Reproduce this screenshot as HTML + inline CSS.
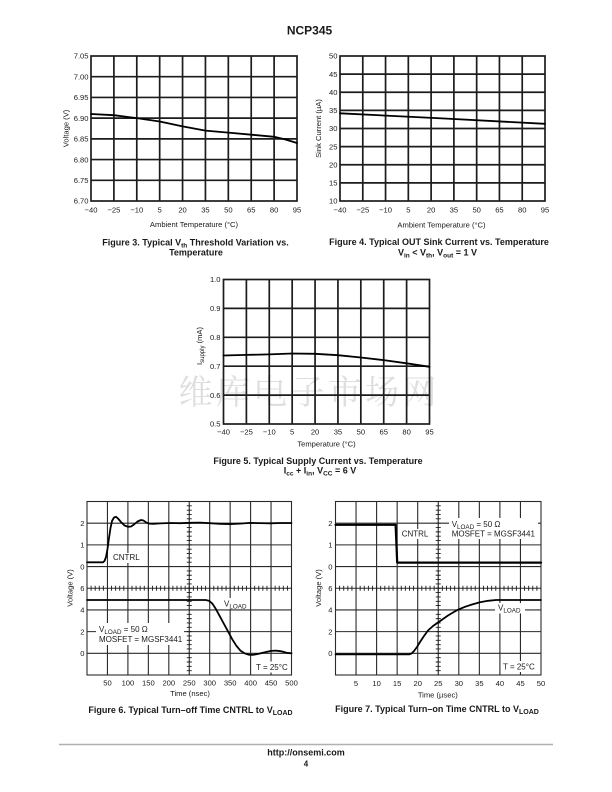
<!DOCTYPE html>
<html>
<head>
<meta charset="utf-8">
<style>
html,body{margin:0;padding:0;background:#fff;}
svg{display:block;}
text{font-family:"Liberation Sans",Arial,sans-serif;fill:#1a1a1a;}
.t{font-size:7.6px;}
.ax{font-size:7.6px;}
.cap{font-size:9px;font-weight:bold;}
.an{font-size:8px;}
.g1{stroke:#1c1c1c;stroke-width:1.7;fill:none;}
.g2{stroke:#2a2a2a;stroke-width:1.1;fill:none;}
.cv{stroke:#000;stroke-width:1.8;fill:none;stroke-linejoin:round;stroke-linecap:round;}
</style>
</head>
<body>
<svg width="612" height="792" viewBox="0 0 612 792" xmlns="http://www.w3.org/2000/svg">
<rect width="612" height="792" fill="#fff"/>

<!-- Header -->
<text x="309.5" y="34.3" text-anchor="middle" style="font-size:12px;font-weight:bold;">NCP345</text>

<!-- ================= Figure 3 ================= -->
<g class="g1">
  <rect x="91" y="56" width="206" height="145"/>
  <path d="M113.89 56V201M136.78 56V201M159.67 56V201M182.56 56V201M205.44 56V201M228.33 56V201M251.22 56V201M274.11 56V201"/>
  <path d="M91 76.71H297M91 97.43H297M91 118.14H297M91 138.86H297M91 159.57H297M91 180.29H297"/>
</g>
<polyline class="cv" points="91,114 113.9,115.2 136.8,118.1 159.7,121.5 182.6,126.4 205.4,130.6 228.3,132.6 251.2,134.7 274.1,136.8 285,139.4 297,143"/>
<g class="t" text-anchor="end">
  <text x="88.5" y="58.7">7.05</text>
  <text x="88.5" y="79.4">7.00</text>
  <text x="88.5" y="100.1">6.95</text>
  <text x="88.5" y="120.8">6.90</text>
  <text x="88.5" y="141.6">6.85</text>
  <text x="88.5" y="162.3">6.80</text>
  <text x="88.5" y="183">6.75</text>
  <text x="88.5" y="203.7">6.70</text>
</g>
<g class="t" text-anchor="middle">
  <text x="91" y="212.7">−40</text>
  <text x="113.89" y="212.7">−25</text>
  <text x="136.78" y="212.7">−10</text>
  <text x="159.67" y="212.7">5</text>
  <text x="182.56" y="212.7">20</text>
  <text x="205.44" y="212.7">35</text>
  <text x="228.33" y="212.7">50</text>
  <text x="251.22" y="212.7">65</text>
  <text x="274.11" y="212.7">80</text>
  <text x="297" y="212.7">95</text>
</g>
<text class="ax" x="194" y="227" text-anchor="middle">Ambient Temperature (°C)</text>
<text class="ax" transform="translate(68.5,128.5) rotate(-90)" text-anchor="middle">Voltage (V)</text>
<text class="cap" x="195.5" y="245.5" text-anchor="middle">Figure 3. Typical V<tspan dy="2" style="font-size:6.5px">th</tspan><tspan dy="-2"> Threshold Variation vs.</tspan></text>
<text class="cap" x="196" y="255.5" text-anchor="middle">Temperature</text>

<!-- ================= Figure 4 ================= -->
<g class="g1">
  <rect x="340" y="56" width="205" height="145"/>
  <path d="M362.78 56V201M385.56 56V201M408.33 56V201M431.11 56V201M453.89 56V201M476.67 56V201M499.44 56V201M522.22 56V201"/>
  <path d="M340 74.13H545M340 92.25H545M340 110.38H545M340 128.5H545M340 146.63H545M340 164.75H545M340 182.88H545"/>
</g>
<polyline class="cv" points="340,113.3 442,118.4 545,123.8"/>
<g class="t" text-anchor="end">
  <text x="337.5" y="58.7">50</text>
  <text x="337.5" y="76.8">45</text>
  <text x="337.5" y="94.9">40</text>
  <text x="337.5" y="113.1">35</text>
  <text x="337.5" y="131.2">30</text>
  <text x="337.5" y="149.3">25</text>
  <text x="337.5" y="167.5">20</text>
  <text x="337.5" y="185.6">15</text>
  <text x="337.5" y="203.7">10</text>
</g>
<g class="t" text-anchor="middle">
  <text x="340" y="212.7">−40</text>
  <text x="362.78" y="212.7">−25</text>
  <text x="385.56" y="212.7">−10</text>
  <text x="408.33" y="212.7">5</text>
  <text x="431.11" y="212.7">20</text>
  <text x="453.89" y="212.7">35</text>
  <text x="476.67" y="212.7">50</text>
  <text x="499.44" y="212.7">65</text>
  <text x="522.22" y="212.7">80</text>
  <text x="545" y="212.7">95</text>
</g>
<text class="ax" x="441.5" y="227.5" text-anchor="middle">Ambient Temperature (°C)</text>
<text class="ax" transform="translate(321,128.5) rotate(-90)" text-anchor="middle">Sink Current (µA)</text>
<text class="cap" x="439" y="245" text-anchor="middle">Figure 4. Typical OUT Sink Current vs. Temperature</text>
<text class="cap" x="437.5" y="255.5" text-anchor="middle">V<tspan dy="2" style="font-size:6.5px">in</tspan><tspan dy="-2"> &lt; V</tspan><tspan dy="2" style="font-size:6.5px">th</tspan><tspan dy="-2">, V</tspan><tspan dy="2" style="font-size:6.5px">out</tspan><tspan dy="-2"> = 1 V</tspan></text>

<!-- ================= Figure 5 ================= -->
<text x="307.5" y="404" text-anchor="middle" textLength="258" lengthAdjust="spacing" style="font-family:'Noto Serif CJK SC','Noto Sans CJK SC',serif;font-size:34px;fill:#dedede;">维库电子市场网</text>
<g class="g1">
  <rect x="223.5" y="279.5" width="206" height="144.5"/>
  <path d="M246.39 279.5V424M269.28 279.5V424M292.17 279.5V424M315.06 279.5V424M337.94 279.5V424M360.83 279.5V424M383.72 279.5V424M406.61 279.5V424"/>
  <path d="M223.5 308.4H429.5M223.5 337.3H429.5M223.5 366.2H429.5M223.5 395.1H429.5"/>
</g>
<polyline class="cv" points="223.5,355.5 246.4,354.9 269.3,354.4 292.2,353.5 315.1,353.8 337.9,355.2 360.8,357.5 383.7,360.1 406.6,363.3 429.5,366.8"/>
<g class="t" text-anchor="end">
  <text x="220.5" y="282.2">1.0</text>
  <text x="220.5" y="311.1">0.9</text>
  <text x="220.5" y="340">0.8</text>
  <text x="220.5" y="368.9">0.7</text>
  <text x="220.5" y="397.8">0.6</text>
  <text x="220.5" y="426.7">0.5</text>
</g>
<g class="t" text-anchor="middle">
  <text x="223.5" y="434.7">−40</text>
  <text x="246.39" y="434.7">−25</text>
  <text x="269.28" y="434.7">−10</text>
  <text x="292.17" y="434.7">5</text>
  <text x="315.06" y="434.7">20</text>
  <text x="337.94" y="434.7">35</text>
  <text x="360.83" y="434.7">50</text>
  <text x="383.72" y="434.7">65</text>
  <text x="406.61" y="434.7">80</text>
  <text x="429.5" y="434.7">95</text>
</g>
<text class="ax" x="326.5" y="446.7" text-anchor="middle">Temperature (°C)</text>
<text class="ax" transform="translate(202,346) rotate(-90)" text-anchor="middle">I<tspan dy="2" style="font-size:6px">supply</tspan><tspan dy="-2"> (mA)</tspan></text>
<text class="cap" x="318" y="464" text-anchor="middle">Figure 5. Typical Supply Current vs. Temperature</text>
<text class="cap" x="320" y="473.5" text-anchor="middle">I<tspan dy="2" style="font-size:6.5px">cc</tspan><tspan dy="-2"> + I</tspan><tspan dy="2" style="font-size:6.5px">in</tspan><tspan dy="-2">, V</tspan><tspan dy="2" style="font-size:6.5px">CC</tspan><tspan dy="-2"> = 6 V</tspan></text>

<!-- ================= Figure 6 ================= -->
<g class="g2">
  <rect x="87" y="501.5" width="204.5" height="173.5"/>
  <path d="M107.45 501.5V675M127.9 501.5V675M148.35 501.5V675M168.8 501.5V675M189.25 501.5V675M209.7 501.5V675M230.15 501.5V675M250.6 501.5V675M271.05 501.5V675"/>
  <path d="M87 523.19H291.5M87 544.88H291.5M87 566.56H291.5M87 588.25H291.5M87 609.94H291.5M87 631.63H291.5M87 653.31H291.5"/>
</g>
<line x1="87" y1="588.25" x2="291.5" y2="588.25" stroke="#1a1a1a" stroke-width="5" stroke-dasharray="0.9 3.19" stroke-dashoffset="0.45"/>
<line x1="189.25" y1="501.5" x2="189.25" y2="675" stroke="#1a1a1a" stroke-width="5" stroke-dasharray="0.9 3.4375" stroke-dashoffset="0.45"/>
<rect x="111" y="553" width="30" height="10" fill="#fff"/>
<rect x="96" y="623" width="88" height="22" fill="#fff"/>
<rect x="254" y="661.5" width="35" height="11" fill="#fff"/>
<rect x="222" y="598" width="27" height="11" fill="#fff"/>
<polyline class="cv" points="87,562.3 103,562.3 104.5,561 106,557 107.5,549 109,538 110.5,528 112,521 114,517.5 116,516.8 118,518.5 121,522 124.5,525.5 128,526.8 131,526.5 134,524.5 137.5,521.5 141,520 143.5,520.5 146,522.3 149,523.6 153,523.8 160,523.4 170,523 180,523.2 190,522.8 200,522.6 210,523.2 220,523.8 230,524.1 240,523.6 250,522.9 260,523.1 270,523.3 280,523 291.5,523"/>
<polyline class="cv" points="87,600 205.6,600 208.9,600.7 212.2,603.4 215.8,608.9 219.9,616.4 224,624 228.1,631.6 232.2,639.2 236.3,645.7 240.4,650.6 244.5,653.3 248.6,654.7 252.6,654.9 258.8,653.8 264.9,652.2 271.1,650.9 276,650.6 281.3,651.3 286.6,652.8 291.5,653.3"/>
<g class="an">
  <text x="113" y="560">CNTRL</text>
  <text x="224" y="606.5">V<tspan dy="2" style="font-size:6.3px">LOAD</tspan></text>
  <text x="99" y="632">V<tspan dy="2" style="font-size:6.3px">LOAD</tspan><tspan dy="-2"> = 50 Ω</tspan></text>
  <text x="99" y="642">MOSFET = MGSF3441</text>
  <text x="256" y="670">T = 25°C</text>
</g>
<g class="t" text-anchor="end">
  <text x="84.5" y="525.9">2</text>
  <text x="84.5" y="547.6">1</text>
  <text x="84.5" y="569.3">0</text>
  <text x="84.5" y="591">6</text>
  <text x="84.5" y="612.7">4</text>
  <text x="84.5" y="634.3">2</text>
  <text x="84.5" y="656">0</text>
</g>
<g class="t" text-anchor="middle">
  <text x="107.45" y="685.5">50</text>
  <text x="127.9" y="685.5">100</text>
  <text x="148.35" y="685.5">150</text>
  <text x="168.8" y="685.5">200</text>
  <text x="189.25" y="685.5">250</text>
  <text x="209.7" y="685.5">300</text>
  <text x="230.15" y="685.5">350</text>
  <text x="250.6" y="685.5">400</text>
  <text x="271.05" y="685.5">450</text>
  <text x="291.5" y="685.5">500</text>
</g>
<text class="ax" x="190" y="696" text-anchor="middle">Time (nsec)</text>
<text class="ax" transform="translate(72.5,588) rotate(-90)" text-anchor="middle">Voltage (V)</text>
<text class="cap" x="190.5" y="713" text-anchor="middle">Figure 6. Typical Turn–off Time CNTRL to V<tspan dy="2" style="font-size:7px">LOAD</tspan></text>

<!-- ================= Figure 7 ================= -->
<g class="g2">
  <rect x="335.5" y="501.5" width="205.5" height="173.5"/>
  <path d="M356.05 501.5V675M376.6 501.5V675M397.15 501.5V675M417.7 501.5V675M438.25 501.5V675M458.8 501.5V675M479.35 501.5V675M499.9 501.5V675M520.45 501.5V675"/>
  <path d="M335.5 523.19H541M335.5 544.88H541M335.5 566.56H541M335.5 588.25H541M335.5 609.94H541M335.5 631.63H541M335.5 653.31H541"/>
</g>
<line x1="335.5" y1="588.25" x2="541" y2="588.25" stroke="#1a1a1a" stroke-width="5" stroke-dasharray="0.9 3.21" stroke-dashoffset="0.45"/>
<line x1="438.25" y1="501.5" x2="438.25" y2="675" stroke="#1a1a1a" stroke-width="5" stroke-dasharray="0.9 3.4375" stroke-dashoffset="0.45"/>
<rect x="449" y="518" width="89" height="21" fill="#fff"/>
<rect x="399.5" y="529" width="31" height="10" fill="#fff"/>
<rect x="501" y="661" width="37" height="11" fill="#fff"/>
<rect x="495" y="603" width="30" height="10.5" fill="#fff"/>
<polyline class="cv" points="335.5,524.8 395.6,524.8 397.2,562.6 541,562.6" style="stroke-width:2.2"/>
<polyline class="cv" points="335.5,654.4 409,654.4 411.5,653.5 414,651 417,647 420,642 424,636 428,630.5 433,626 438,622.5 443,619 448,615.5 453,612.5 458,609.7 465,606.8 472,604.5 480,602.3 488,600.8 496,600 541,600"/>
<g class="an">
  <text x="451.7" y="527">V<tspan dy="2" style="font-size:6.3px">LOAD</tspan><tspan dy="-2"> = 50 Ω</tspan></text>
  <text x="451.7" y="536.3">MOSFET = MGSF3441</text>
  <text x="401.7" y="536.3">CNTRL</text>
  <text x="498" y="610.5">V<tspan dy="2" style="font-size:6.3px">LOAD</tspan></text>
  <text x="503" y="669.5">T = 25°C</text>
</g>
<g class="t" text-anchor="end">
  <text x="332.5" y="525.9">2</text>
  <text x="332.5" y="547.6">1</text>
  <text x="332.5" y="569.3">0</text>
  <text x="332.5" y="591">6</text>
  <text x="332.5" y="612.7">4</text>
  <text x="332.5" y="634.3">2</text>
  <text x="332.5" y="656">0</text>
</g>
<g class="t" text-anchor="middle">
  <text x="356.05" y="686">5</text>
  <text x="376.6" y="686">10</text>
  <text x="397.15" y="686">15</text>
  <text x="417.7" y="686">20</text>
  <text x="438.25" y="686">25</text>
  <text x="458.8" y="686">30</text>
  <text x="479.35" y="686">35</text>
  <text x="499.9" y="686">40</text>
  <text x="520.45" y="686">45</text>
  <text x="541" y="686">50</text>
</g>
<text class="ax" x="437.8" y="697.5" text-anchor="middle">Time (µsec)</text>
<text class="ax" transform="translate(321,588) rotate(-90)" text-anchor="middle">Voltage (V)</text>
<text class="cap" x="437" y="712" text-anchor="middle">Figure 7. Typical Turn–on Time CNTRL to V<tspan dy="2" style="font-size:7px">LOAD</tspan></text>

<!-- Footer -->
<line x1="59" y1="744.5" x2="553" y2="744.5" stroke="#b0b0b0" stroke-width="1.5"/>
<text x="306" y="755.5" text-anchor="middle" style="font-size:9px;font-weight:bold;">http://onsemi.com</text>
<text x="306" y="766.5" text-anchor="middle" style="font-size:8px;font-weight:bold;">4</text>
</svg>
</body>
</html>
